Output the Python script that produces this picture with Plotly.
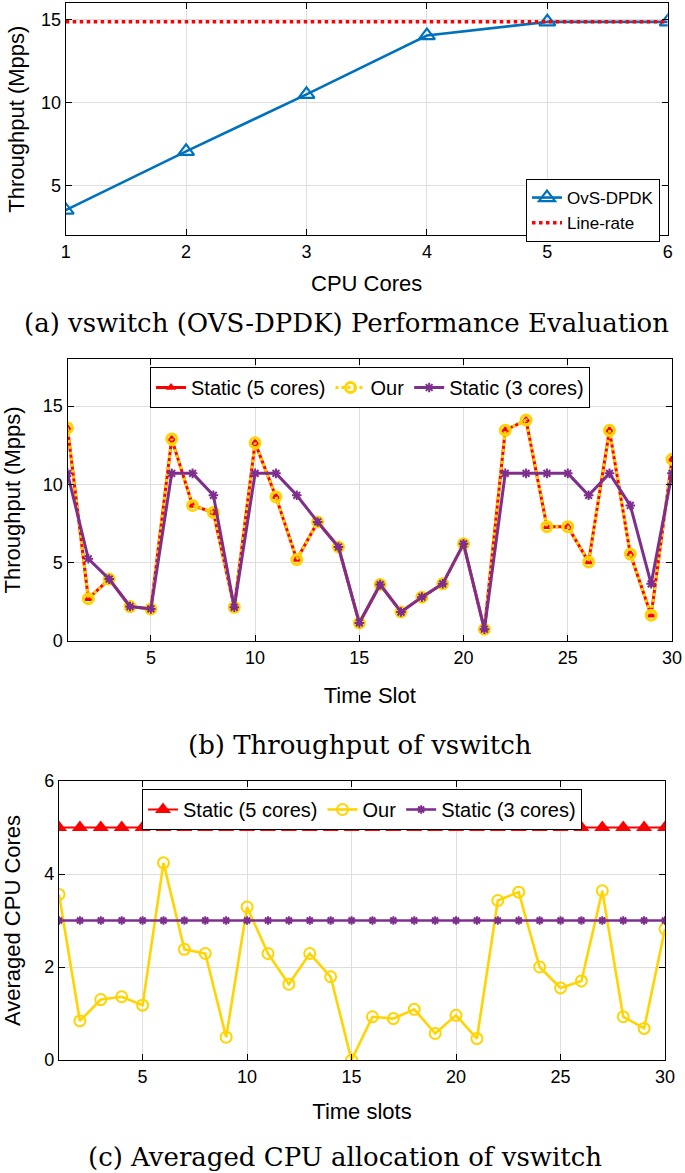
import plotly.graph_objects as go

# ---------------- data ----------------
cores = [1, 2, 3, 4, 5, 6]
ovs_dpdk = [3.5, 7.05, 10.5, 14.05, 14.88, 14.88]
line_rate = [14.88, 14.88, 14.88, 14.88, 14.88, 14.88]

slots = list(range(1, 31))
thr_static5 = [13.6, 2.7, 3.95, 2.2, 2.05, 12.9, 8.65, 8.2, 2.15, 12.65,
               9.2, 5.2, 7.6, 6.0, 1.15, 3.6, 1.85, 2.8, 3.65, 6.2,
               0.75, 13.45, 14.1, 7.3, 7.3, 5.05, 13.45, 5.55, 1.65, 11.6]
thr_our = [13.6, 2.7, 3.95, 2.2, 2.05, 12.9, 8.65, 8.2, 2.15, 12.65,
           9.2, 5.2, 7.6, 6.0, 1.15, 3.6, 1.85, 2.8, 3.65, 6.2,
           0.75, 13.45, 14.1, 7.3, 7.3, 5.05, 13.45, 5.55, 1.65, 11.6]
thr_static3 = [10.7, 5.25, 3.95, 2.2, 2.05, 10.7, 10.7, 9.3, 2.15, 10.7,
               10.7, 9.3, 7.6, 6.0, 1.15, 3.6, 1.85, 2.8, 3.65, 6.2,
               0.75, 10.7, 10.7, 10.7, 10.7, 9.3, 10.7, 8.65, 3.65, 10.7]

cpu_static5 = [5, 5, 5, 5, 5, 5, 5, 5, 5, 5, 5, 5, 5, 5, 5,
               5, 5, 5, 5, 5, 5, 5, 5, 5, 5, 5, 5, 5, 5, 5]
cpu_our = [3.56, 0.84, 1.3, 1.36, 1.18, 4.24, 2.38, 2.29, 0.49, 3.29,
           2.29, 1.63, 2.29, 1.79, 0.0, 0.93, 0.89, 1.09, 0.57, 0.96,
           0.46, 3.43, 3.61, 2.0, 1.55, 1.7, 3.64, 0.93, 0.68, 2.82]
cpu_static3 = [3, 3, 3, 3, 3, 3, 3, 3, 3, 3, 3, 3, 3, 3, 3,
               3, 3, 3, 3, 3, 3, 3, 3, 3, 3, 3, 3, 3, 3, 3]

# ---------------- style ----------------
W, H = 685, 1173
BLUE = "#0072BD"
RED = "#FF0000"
YELLOW = "#FFD400"
PURPLE = "#7E2F8E"
SANS = "Liberation Sans, Arial, sans-serif"
SERIF = "DejaVu Serif, serif"
GRID = "#DEDEDE"


def px_x(p):
    return p / W


def px_y(p):
    return 1 - p / H


fig = go.Figure()

# ---- panel (a)
fig.add_trace(go.Scatter(x=cores, y=ovs_dpdk, name="OvS-DPDK", mode="lines+markers",
                         line=dict(color=BLUE, width=2.6),
                         marker=dict(symbol="triangle-up-open", size=14, color=BLUE,
                                     line=dict(width=2.2, color=BLUE)),
                         xaxis="x", yaxis="y", legend="legend"))
fig.add_trace(go.Scatter(x=cores, y=line_rate, name="Line-rate", mode="lines",
                         line=dict(color=RED, width=3.5, dash="dot"),
                         xaxis="x", yaxis="y", legend="legend"))

# ---- panel (b)
fig.add_trace(go.Scatter(x=slots, y=thr_static5, name="Static (5 cores)", mode="lines+markers",
                         line=dict(color=RED, width=3),
                         marker=dict(symbol="triangle-up", size=9, color=RED),
                         xaxis="x2", yaxis="y2", legend="legend2"))
fig.add_trace(go.Scatter(x=slots, y=thr_our, name="Our", mode="lines+markers",
                         line=dict(color=YELLOW, width=3, dash="dot"),
                         marker=dict(symbol="circle-open", size=10, color=YELLOW,
                                     line=dict(width=3, color=YELLOW)),
                         xaxis="x2", yaxis="y2", legend="legend2"))
fig.add_trace(go.Scatter(x=slots, y=thr_static3, name="Static (3 cores)", mode="lines+markers",
                         line=dict(color=PURPLE, width=3),
                         marker=dict(symbol="asterisk-open", size=8, color=PURPLE,
                                     line=dict(width=2, color=PURPLE)),
                         xaxis="x2", yaxis="y2", legend="legend2"))

# ---- panel (c)
fig.add_trace(go.Scatter(x=slots, y=cpu_static5, name="Static (5 cores)", mode="lines+markers",
                         line=dict(color=RED, width=2),
                         marker=dict(symbol="triangle-up", size=14, color=RED),
                         xaxis="x3", yaxis="y3", legend="legend3"))
fig.add_trace(go.Scatter(x=slots, y=cpu_our, name="Our", mode="lines+markers",
                         line=dict(color=YELLOW, width=2.6),
                         marker=dict(symbol="circle-open", size=11, color=YELLOW,
                                     line=dict(width=2, color=YELLOW)),
                         xaxis="x3", yaxis="y3", legend="legend3"))
fig.add_trace(go.Scatter(x=slots, y=cpu_static3, name="Static (3 cores)", mode="lines+markers",
                         line=dict(color=PURPLE, width=2.6),
                         marker=dict(symbol="asterisk-open", size=7, color=PURPLE,
                                     line=dict(width=2, color=PURPLE)),
                         xaxis="x3", yaxis="y3", legend="legend3"))

axis_common = dict(showline=True, linecolor="black", linewidth=1.3, mirror="ticks",
                   ticks="inside", ticklen=6, tickwidth=1.3, tickcolor="black",
                   showgrid=True, gridcolor=GRID, gridwidth=1, zeroline=False,
                   automargin=False,
                   tickfont=dict(family=SANS, size=18, color="black"),
                   title_font=dict(family=SANS, size=22, color="black"))

fig.update_layout(
    template="none",
    width=W, height=H, margin=dict(l=0, r=0, t=0, b=0, pad=0),
    paper_bgcolor="white", plot_bgcolor="white",
    xaxis=dict(domain=[px_x(65.7), px_x(667.7)], anchor="y", range=[1, 6],
               tickvals=[1, 2, 3, 4, 5, 6], title=dict(text="CPU Cores", standoff=14),
               **axis_common),
    yaxis=dict(domain=[px_y(235), px_y(3.3)], anchor="x", range=[2, 16],
               tickvals=[5, 10, 15], title=dict(text="Throughput (Mpps)", standoff=10),
               **axis_common),
    xaxis2=dict(domain=[px_x(67.5), px_x(672)], anchor="y2", range=[1, 30],
                tickvals=[5, 10, 15, 20, 25, 30], title=dict(text="Time Slot", standoff=20),
                **axis_common),
    yaxis2=dict(domain=[px_y(641), px_y(359)], anchor="x2", range=[0, 18],
                tickvals=[0, 5, 10, 15], title=dict(text="Throughput (Mpps)", standoff=20),
                **axis_common),
    xaxis3=dict(domain=[px_x(59), px_x(665)], anchor="y3", range=[1, 30],
                tickvals=[5, 10, 15, 20, 25, 30], title=dict(text="Time slots", standoff=17),
                **axis_common),
    yaxis3=dict(domain=[px_y(1060), px_y(781)], anchor="x3", range=[0, 6],
                tickvals=[0, 2, 4, 6], title=dict(text="Averaged CPU Cores", standoff=18),
                **axis_common),
    legend=dict(x=px_x(660), xanchor="right", y=px_y(179), yanchor="top",
                bgcolor="white", bordercolor="black", borderwidth=1,
                font=dict(family=SANS, size=17, color="black"),
                itemwidth=30, tracegroupgap=0),
    legend2=dict(x=px_x(370), xanchor="center", y=px_y(367), yanchor="top",
                 orientation="h", bgcolor="white", bordercolor="black", borderwidth=1,
                 font=dict(family=SANS, size=20, color="black"), itemwidth=30),
    legend3=dict(x=px_x(362), xanchor="center", y=px_y(789), yanchor="top",
                 orientation="h", bgcolor="white", bordercolor="black", borderwidth=1,
                 font=dict(family=SANS, size=20, color="black"), itemwidth=30),
    annotations=[
        dict(text="(a) vswitch (OVS-DPDK) Performance Evaluation", x=px_x(346), y=px_y(323),
             xref="paper", yref="paper", showarrow=False, xanchor="center", yanchor="middle",
             font=dict(family=SERIF, size=26, color="black")),
        dict(text="(b) Throughput of vswitch", x=px_x(360), y=px_y(745),
             xref="paper", yref="paper", showarrow=False, xanchor="center", yanchor="middle",
             font=dict(family=SERIF, size=26, color="black")),
        dict(text="(c) Averaged CPU allocation of vswitch", x=px_x(345), y=px_y(1157),
             xref="paper", yref="paper", showarrow=False, xanchor="center", yanchor="middle",
             font=dict(family=SERIF, size=26, color="black")),
    ],
)

fig.write_html("out.html", config={"displayModeBar": False},
               post_script="document.body.style.margin='0';document.body.style.overflow='hidden';")
